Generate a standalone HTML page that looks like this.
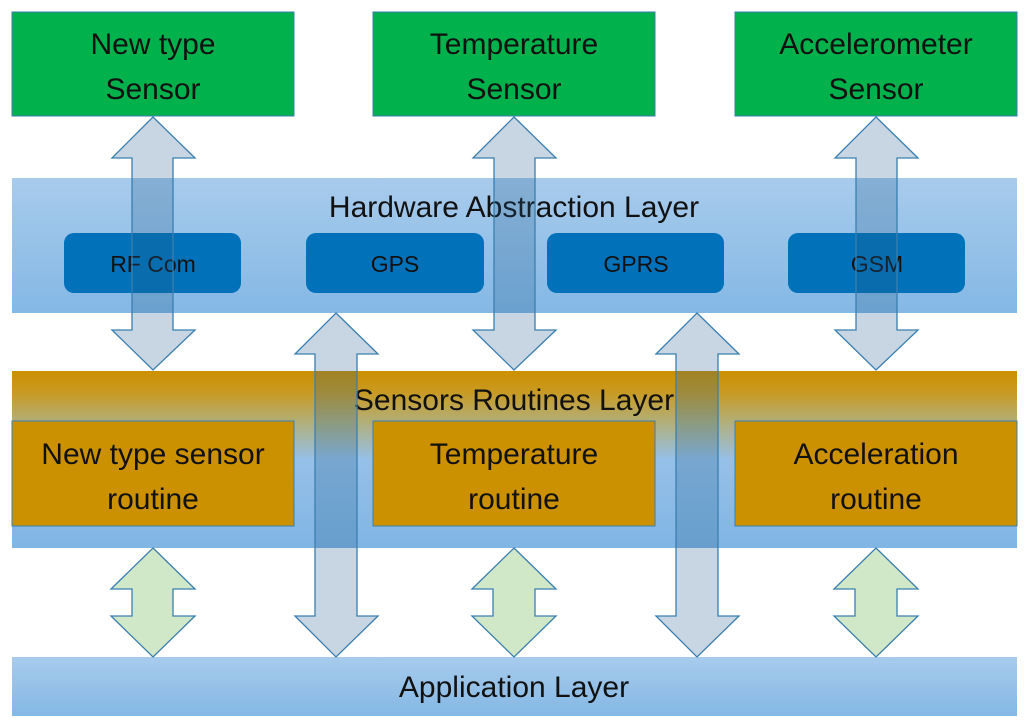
<!DOCTYPE html>
<html><head><meta charset="utf-8"><style>
html,body{margin:0;padding:0;background:#fff;}
svg{display:block;}
text{font-family:"Liberation Sans",sans-serif;fill:#111;text-anchor:middle;}
</style></head><body>
<svg width="1024" height="722" viewBox="0 0 1024 722" xmlns="http://www.w3.org/2000/svg">
<defs>
<linearGradient id="blu" x1="0" y1="0" x2="0" y2="1">
<stop offset="0" stop-color="#a8cbec"/><stop offset="1" stop-color="#84b8e5"/>
</linearGradient>
<linearGradient id="sen" x1="0" y1="0" x2="0" y2="1">
<stop offset="0" stop-color="#cc9000"/><stop offset="0.12" stop-color="#c99a22"/>
<stop offset="0.3" stop-color="#b0b080"/><stop offset="0.5" stop-color="#95c0e8"/>
<stop offset="1" stop-color="#80b5e4"/>
</linearGradient>
</defs>
<!-- green sensors -->
<g fill="#00b14c" stroke="#3a7fb0" stroke-width="1">
<rect x="12" y="12" width="282" height="104"/>
<rect x="373" y="12" width="282" height="104"/>
<rect x="735" y="12" width="282" height="104"/>
</g>
<g font-size="30">
<text x="153" y="54">New type</text><text x="153" y="99">Sensor</text>
<text x="514" y="54">Temperature</text><text x="514" y="99">Sensor</text>
<text x="876" y="54">Accelerometer</text><text x="876" y="99">Sensor</text>
</g>
<!-- HAL -->
<rect x="12" y="178" width="1005" height="135" fill="url(#blu)"/>
<text x="514" y="217" font-size="30">Hardware Abstraction Layer</text>
<g fill="#0172b9">
<rect x="64" y="233" width="177" height="60" rx="10"/>
<rect x="306" y="233" width="178" height="60" rx="10"/>
<rect x="547" y="233" width="177" height="60" rx="10"/>
<rect x="788" y="233" width="177" height="60" rx="10"/>
</g>
<g font-size="23">
<text x="153" y="272">RF Com</text><text x="395" y="272">GPS</text>
<text x="636" y="272">GPRS</text><text x="877" y="272">GSM</text>
</g>
<!-- Sensors layer -->
<rect x="12" y="371" width="1005" height="177" fill="url(#sen)"/>
<text x="514" y="410" font-size="30">Sensors Routines Layer</text>
<g fill="#cc9100" stroke="#3a7fb0" stroke-width="1">
<rect x="12" y="421" width="282" height="105"/>
<rect x="373" y="421" width="282" height="105"/>
<rect x="735" y="421" width="282" height="105"/>
</g>
<g font-size="30">
<text x="153" y="464">New type sensor</text><text x="153" y="509">routine</text>
<text x="514" y="464">Temperature</text><text x="514" y="509">routine</text>
<text x="876" y="464">Acceleration</text><text x="876" y="509">routine</text>
</g>
<!-- Application -->
<rect x="12" y="657" width="1005" height="59" fill="url(#blu)"/>
<text x="514" y="697" font-size="30">Application Layer</text>
<!-- big arrows -->
<g fill="rgba(30,90,140,0.25)" stroke="#3a7fb0" stroke-width="1.3">
<path d="M153,117 L195,158 L173,158 L173,330 L195,330 L153,370 L112,330 L132,330 L132,158 L112,158 Z"/>
<path d="M514,117 L556,158 L535,158 L535,330 L556,330 L514,370 L473,330 L494,330 L494,158 L473,158 Z"/>
<path d="M876,117 L918,158 L897,158 L897,330 L918,330 L876,370 L835,330 L856,330 L856,158 L835,158 Z"/>
<path d="M336,313 L378,354 L357,354 L357,616 L378,616 L336,657 L295,616 L315,616 L315,354 L295,354 Z"/>
<path d="M697,313 L739,354 L718,354 L718,616 L739,616 L697,657 L656,616 L676,616 L676,354 L656,354 Z"/>
</g>
<!-- green arrows -->
<g fill="#d0e8c8" stroke="#3a7fb0" stroke-width="1.3">
<path d="M153,548 L195,589 L173,589 L173,616 L195,616 L153,657 L111,616 L132,616 L132,589 L111,589 Z"/>
<path d="M514,548 L556,589 L535,589 L535,616 L556,616 L514,657 L472,616 L493,616 L493,589 L472,589 Z"/>
<path d="M876,548 L918,589 L897,589 L897,616 L918,616 L876,657 L834,616 L855,616 L855,589 L834,589 Z"/>
</g>
</svg>
</body></html>
